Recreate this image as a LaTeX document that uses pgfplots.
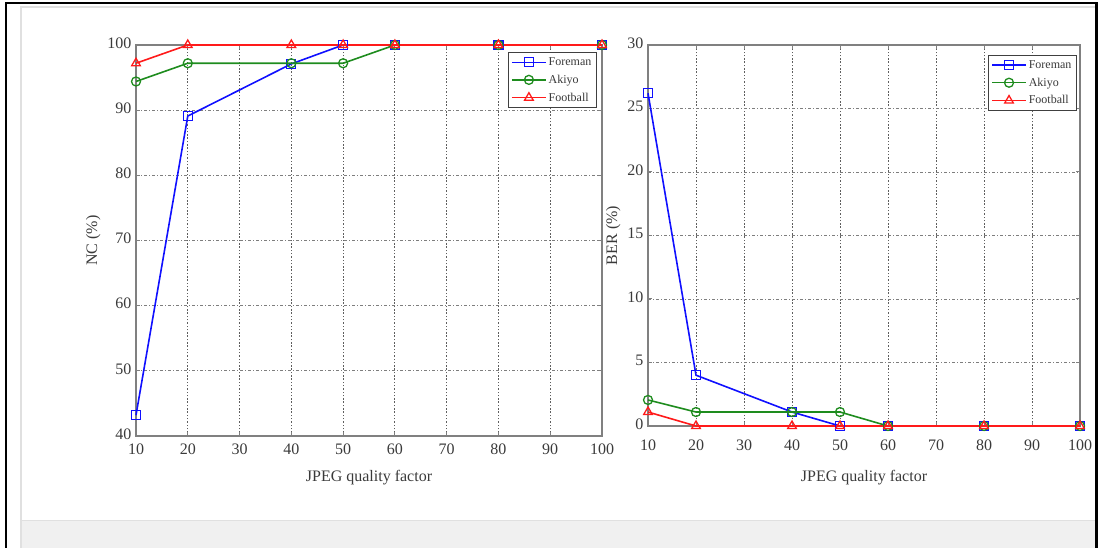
\documentclass[border=0pt]{standalone}
\usepackage{pgfplots}
\pgfplotsset{compat=1.18}
\usepackage{fontspec}
\setmainfont{Liberation Serif}

\definecolor{axgray}{HTML}{808080}
\definecolor{txtgray}{HTML}{3A3A3A}
\definecolor{gridgray}{HTML}{5E5E5E}
\definecolor{mblue}{HTML}{1010FF}
\definecolor{mgreen}{HTML}{1E8C1E}
\definecolor{mred}{HTML}{FF1A1A}

\pgfplotsset{
  jpegax/.style={
    scale only axis,
    xmin=10, xmax=100,
    xtick={10,20,...,100},
    grid=major,
    clip=false,
    axis line style={axgray, line width=1.3pt},
    tick style={axgray, line width=1pt},
    major tick length=4pt,
    tick align=inside,
    x grid style={gridgray, line width=0.9pt, dash pattern=on 1.5pt off 1.8pt},
    y grid style={gridgray!80, line width=0.8pt, dash pattern=on 3pt off 2pt on 1pt off 2pt},
    /pgf/number format/assume math mode=true,
    ticklabel style={font=\fontsize{16}{16}\selectfont, text=txtgray},
    yticklabel style={xshift=-1pt, yshift=2pt},
    label style={font=\fontsize{16}{16}\selectfont, text=txtgray},
    xlabel={JPEG quality factor},
    legend cell align=left,
    legend style={font=\fontsize{12}{13}\selectfont, text=txtgray,
      draw=black!75, line width=1.1pt, fill=white,
      inner xsep=3pt, inner ysep=3pt, row sep=4pt},
    legend image code/.code={
      \draw[mark repeat=2, mark phase=2, line width=1.5pt]
        plot coordinates {(0pt,0pt) (17pt,0pt) (34pt,0pt)};
    },
    every axis plot/.append style={line width=1.6pt},
  },
  foreman/.style={mblue, mark=square, mark size=4.5pt, mark options={solid, line width=1.3pt}},
  akiyo/.style={mgreen, mark=o, mark size=4.5pt, mark options={solid, line width=1.3pt}},
  football/.style={mred, mark=triangle, mark size=5pt, mark options={solid, line width=1.3pt}},
}

\begin{document}
\begin{tikzpicture}
\useasboundingbox (0pt,0pt) rectangle (1099pt,548pt);

% page frame and footer band
\fill[black!6] (21pt,0pt) rectangle (1095pt,27pt);
\draw[black!12, line width=1pt] (21pt,27pt) -- (1095pt,27pt);
\draw[black!12, line width=1.2pt] (21pt,0pt) -- (21pt,541pt) -- (1095pt,541pt);
\draw[black, line width=2.6pt] (6pt,0pt) -- (6pt,545pt) -- (1096.5pt,545pt) -- (1096.5pt,0pt);

% NC versus JPEG quality
\begin{axis}[jpegax,
  at={(136pt,112pt)}, anchor=south west,
  width=466pt, height=391pt,
  ymin=40, ymax=100, ytick={40,50,...,100},
  xticklabel style={yshift=-4pt},
  xlabel style={yshift=-9pt},
  ylabel={NC (\%)},
  legend style={at={(0.989,0.982)}, anchor=north east},
]
\addplot[foreman] coordinates {(10,43.2) (20,89.1) (40,97.1) (50,100) (60,100) (80,100) (100,100)};
\addplot[akiyo] coordinates {(10,94.4) (20,97.2) (40,97.2) (50,97.2) (60,100) (80,100) (100,100)};
\addplot[football] coordinates {(10,97.2) (20,100) (40,100) (50,100) (60,100) (80,100) (100,100)};
\legend{Foreman, Akiyo, Football}
\end{axis}

% BER versus JPEG quality
\begin{axis}[jpegax,
  at={(648pt,122pt)}, anchor=south west,
  width=432pt, height=381pt,
  ymin=0, ymax=30, ytick={0,5,...,30},
  xticklabel style={yshift=-10pt},
  xlabel style={yshift=-13pt},
  ylabel={BER (\%)},
  legend style={at={(0.993,0.974)}, anchor=north east},
]
\addplot[foreman] coordinates {(10,26.2) (20,4.0) (40,1.1) (50,0) (60,0) (80,0) (100,0)};
\addplot[akiyo] coordinates {(10,2.05) (20,1.1) (40,1.1) (50,1.1) (60,0) (80,0) (100,0)};
\addplot[football] coordinates {(10,1.1) (20,0) (40,0) (50,0) (60,0) (80,0) (100,0)};
\legend{Foreman, Akiyo, Football}
\end{axis}
\end{tikzpicture}
\end{document}
